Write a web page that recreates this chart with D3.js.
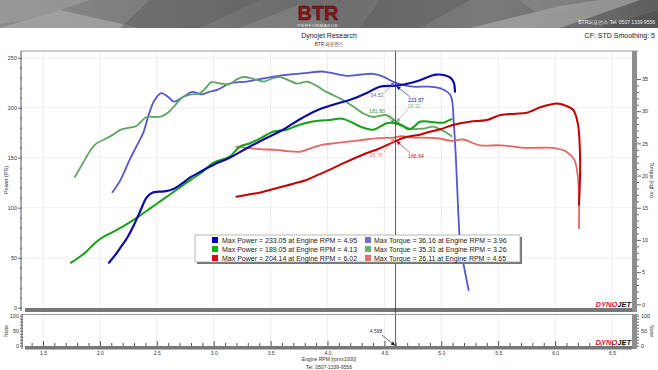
<!DOCTYPE html>
<html><head><meta charset="utf-8">
<script src="https://cdn.jsdelivr.net/npm/d3@7"></script>
<style>
body{margin:0;background:#fff}
svg{display:block}
text{font-family:"Liberation Sans",Arial,sans-serif}
</style>
</head><body>
<svg id="c" width="658" height="370"></svg>
<script>
// ---------- DATA ----------
const run1Power = [[2.08,45],[2.13,52],[2.18,60],[2.24,70],[2.3,83],[2.36,98],[2.41,110],[2.46,115],[2.52,116],[2.58,116.5],[2.65,119],[2.72,124],[2.79,130],[2.9,137],[3.0,143],[3.14,150],[3.3,160],[3.45,169],[3.61,178],[3.75,188],[3.9,197],[4.05,203],[4.2,208],[4.35,215],[4.46,221],[4.6,222],[4.7,224],[4.8,227],[4.9,231.5],[4.95,233.05],[5.03,232.5],[5.08,230],[5.11,225],[5.12,216]];
const run1Torque = [[2.11,17.4],[2.18,19.3],[2.26,22.4],[2.32,24.5],[2.38,26.6],[2.43,29.5],[2.48,31.7],[2.54,32.8],[2.6,32.2],[2.65,31.5],[2.73,32.2],[2.81,33.0],[2.89,32.6],[2.96,33.0],[3.03,33.3],[3.14,34.3],[3.29,34.6],[3.44,35.1],[3.61,35.6],[3.8,35.9],[3.96,36.16],[4.07,35.8],[4.17,35.5],[4.3,35.7],[4.4,35.8],[4.5,35.3],[4.55,34.8],[4.6,34.4],[4.68,34.0],[4.75,33.8],[4.9,33.8],[5.0,33.5],[5.08,32.5],[5.11,28],[5.13,22],[5.15,14],[5.17,8.4],[5.2,5.8],[5.22,4],[5.24,2.2]];
const run2Power = [[1.746,45],[1.8,49],[1.87,55],[1.97,66],[2.05,72],[2.12,76],[2.2,81],[2.3,88],[2.4,96],[2.5,104],[2.6,112],[2.7,120],[2.8,128],[2.88,134],[3.0,145],[3.14,151],[3.23,161],[3.32,164.5],[3.42,170],[3.52,176],[3.64,178],[3.73,182],[3.82,185],[3.92,187],[4.02,187.7],[4.13,189.05],[4.22,185],[4.29,181],[4.4,178],[4.46,181],[4.52,184.5],[4.61,184],[4.67,181],[4.72,178.5],[4.77,182],[4.81,186],[4.9,186],[4.97,185],[5.02,185],[5.06,187],[5.09,188.5]];
const run2Torque = [[1.78,19.8],[1.85,21.9],[1.92,24],[1.97,25],[2.06,25.8],[2.12,26.4],[2.18,27.1],[2.25,27.4],[2.32,27.7],[2.41,29.1],[2.48,29.1],[2.54,29.2],[2.6,29.8],[2.65,30.7],[2.73,32.2],[2.8,32.6],[2.88,32.8],[2.93,33.6],[2.98,34.5],[3.06,34.3],[3.14,34.2],[3.2,34.9],[3.26,35.31],[3.35,35.0],[3.44,34.6],[3.5,35.0],[3.58,35.3],[3.66,34.8],[3.73,34.3],[3.82,34.6],[3.9,34.0],[3.96,33.3],[4.05,32.5],[4.14,31.7],[4.22,30.8],[4.31,29.7],[4.4,29.1],[4.52,29.4],[4.61,28.3],[4.72,27.3],[4.84,27.3],[4.93,27.6],[5.0,27.1],[5.05,26.6],[5.09,26.1]];
const run3Power = [[3.2,111],[3.3,113],[3.4,115],[3.5,118],[3.6,121],[3.7,124],[3.82,128],[3.92,133],[4.02,138],[4.15,145],[4.31,153],[4.45,159],[4.55,164],[4.67,170],[4.81,173],[4.9,176],[4.99,178.4],[5.1,182.7],[5.25,186],[5.4,187.7],[5.52,192.7],[5.65,194],[5.75,195],[5.87,200.4],[5.95,203],[6.02,204.14],[6.1,201.7],[6.16,197.7],[6.2,184],[6.22,148],[6.21,103]];
const run3Torque = [[3.2,24.5],[3.3,24.3],[3.4,24.1],[3.55,24.0],[3.65,23.8],[3.76,23.7],[3.88,24.4],[3.96,24.8],[4.05,25.0],[4.2,25.3],[4.34,25.6],[4.45,25.8],[4.58,25.9],[4.65,26.11],[4.75,25.9],[4.81,25.9],[4.96,25.8],[5.1,25.4],[5.19,25.6],[5.34,24.7],[5.52,24.7],[5.75,24.3],[5.98,24.3],[6.1,23.7],[6.17,22.4],[6.2,19.8],[6.21,16.2],[6.21,11.8]];

const seriesColors = ["#0a0aa8","#5656d2","#16a016","#5fa45f","#c40000","#e26868"];
const legendPower = ["Max Power = 233.05 at Engine RPM = 4.95","Max Power = 189.05 at Engine RPM = 4.13","Max Power = 204.14 at Engine RPM = 6.02"];
const legendTorque = ["Max Torque = 36.16 at Engine RPM = 3.96","Max Torque = 35.31 at Engine RPM = 3.26","Max Torque = 26.11 at Engine RPM = 4.65"];
const legendPowerColors = ["#0000c0","#10b010","#d01010"];
const legendTorqueColors = ["#7070d0","#70b070","#e07070"];

const xTicks = [1.5,2.0,2.5,3.0,3.5,4.0,4.5,5.0,5.5,6.0,6.5];
const powerTicks = [0,50,100,150,200,250];
const torqueTicks = [0,5,10,15,20,25,30,35];
const noneTicks = [0,50,100];
const cursorRpm = 4.598;
// cursor readouts: [text, value, kind(P/T), side, color]
const cursorLabels = [
  ["34.52", 34.52, "T", "L", "#6a6ad8"],
  ["221.57", 221.57, "P", "R", "#0a0aa8"],
  ["181.80", 184, "P", "L", "#3aa03a"],
  ["28.32", 28.32, "T", "R", "#7ab87a"],
  ["25.76", 25.76, "T", "L", "#e88080"],
  ["166.64", 166.64, "P", "R", "#b81010"]
];

// ---------- SETUP ----------
const svg = d3.select("#c");
const PL = 21, PR = 632, PT = 51, PB = 308;
const x = d3.scaleLinear().domain([1.5, 6.5]).range([43, 612]);
const yP = d3.scaleLinear().domain([0, 250]).range([307.7, 57.7]);
const yT = d3.scaleLinear().domain([0, 35]).range([304.3, 79]);
const yN = d3.scaleLinear().domain([0, 100]).range([345.7, 315.7]);

// ---------- HEADER BANNER ----------
const defs = svg.append("defs");
const g1 = defs.append("linearGradient").attr("id","bg").attr("x1","0").attr("x2","1").attr("y1","0").attr("y2","0");
g1.append("stop").attr("offset","0").attr("stop-color","#8c8c8c");
g1.append("stop").attr("offset","0.45").attr("stop-color","#6c6c6c");
g1.append("stop").attr("offset","0.75").attr("stop-color","#7a7a7a");
g1.append("stop").attr("offset","1").attr("stop-color","#5e5e5e");
svg.append("rect").attr("x",0).attr("y",0).attr("width",658).attr("height",28).attr("fill","url(#bg)");
const polys = [
  ["0,28 60,10 140,28", "#b0b0b0", 0.6],
  ["0,0 90,0 30,20 0,24", "#a3a3a3", 0.5],
  ["150,0 260,0 200,28 120,28", "#5a5a5a", 0.45],
  ["240,28 300,4 330,28", "#9a9a9a", 0.35],
  ["380,0 470,0 420,28 360,28", "#585858", 0.4],
  ["470,28 560,6 600,0 640,0 560,28", "#b8b8b8", 0.55],
  ["600,28 658,10 658,28", "#4a4a4a", 0.5],
  ["520,0 600,0 540,16", "#9c9c9c", 0.4]
];
polys.forEach(p => svg.append("polygon").attr("points",p[0]).attr("fill",p[1]).attr("opacity",p[2]));
svg.append("text").attr("x",318).attr("y",20).attr("text-anchor","middle")
  .attr("font-size",20).attr("font-weight","bold").attr("fill","#8a1414")
  .attr("stroke","#4a0a0a").attr("stroke-width",0.4).text("BTR");
svg.append("text").attr("x",318).attr("y",26.5).attr("text-anchor","middle")
  .attr("font-size",4.4).attr("fill","#e8e8e8").attr("letter-spacing",0.6).text("PERFORMANCE");
svg.append("text").attr("x",655).attr("y",24).attr("text-anchor","end")
  .attr("font-size",5).attr("fill","#eeeeee").text("BTR퍼포먼스  Tel. 0507 1339 9556");

// ---------- TITLES ----------
svg.append("text").attr("x",329).attr("y",38).attr("text-anchor","middle").attr("font-size",7).attr("fill","#222").text("Dynojet Research");
svg.append("text").attr("x",329).attr("y",46).attr("text-anchor","middle").attr("font-size",5).attr("fill","#333")
  .style("font-family","'Noto Sans CJK KR','Liberation Sans',sans-serif").text("BTR 퍼포먼스");
svg.append("text").attr("x",655).attr("y",38).attr("text-anchor","end").attr("font-size",7).attr("fill","#222").text("CF: STD Smoothing: 5");

// ---------- GRID ----------
const grid = svg.append("g");
xTicks.forEach(t => {
  grid.append("line").attr("x1",x(t)).attr("x2",x(t)).attr("y1",PT).attr("y2",PB).attr("stroke","#ececec").attr("stroke-width",1);
  grid.append("line").attr("x1",x(t)).attr("x2",x(t)).attr("y1",315).attr("y2",346).attr("stroke","#ececec").attr("stroke-width",1);
});
powerTicks.forEach(t => {
  if (t>0) grid.append("line").attr("x1",PL).attr("x2",PR).attr("y1",yP(t)).attr("y2",yP(t)).attr("stroke","#f0f0f0").attr("stroke-width",1);
});

// plot frame
svg.append("line").attr("x1",PL).attr("x2",PR+6).attr("y1",PT).attr("y2",PT).attr("stroke","#9a9a9a").attr("stroke-width",1);
svg.append("rect").attr("x",PR).attr("y",PT).attr("width",5).attr("height",PB-PT+4).attr("fill","#8e8e8e");
svg.append("rect").attr("x",25).attr("y",308).attr("width",PR-25).attr("height",4).attr("fill","#777");

// ---------- LEFT AXIS (Power) ----------
const axL = svg.append("g").attr("transform",`translate(${PL},0)`)
  .call(d3.axisLeft(yP).tickValues(d3.range(0,251,10)).tickSize(2).tickFormat(d => d%50===0 ? d : ""));
axL.select(".domain").attr("stroke","#555").attr("d",`M0,${PT}V${PB+3}`);
axL.selectAll(".tick line").attr("stroke","#666").attr("x1",1)
  .attr("x2", d => d%50===0 ? -3 : -1);
axL.selectAll(".tick text").attr("font-size",5.5).attr("fill","#333").attr("x",-4).style("font-family","'Liberation Sans',Arial,sans-serif");
svg.append("text").attr("transform","translate(8,180) rotate(-90)").attr("text-anchor","middle")
  .attr("font-size",5.5).attr("fill","#333").text("Power (PS)");

// ---------- RIGHT AXIS (Torque) ----------
const axR = svg.append("g").attr("transform",`translate(${PR+5},0)`)
  .call(d3.axisRight(yT).tickValues(d3.range(0,36,1)).tickSize(2).tickFormat(d => d%5===0 ? d : ""));
axR.select(".domain").remove();
axR.selectAll(".tick line").attr("stroke","#666").attr("x2", d => d%5===0 ? 4 : 2);
axR.selectAll(".tick text").attr("font-size",5.5).attr("fill","#333").attr("x",5).style("font-family","'Liberation Sans',Arial,sans-serif");
svg.append("text").attr("transform","translate(650,180) rotate(90)").attr("text-anchor","middle")
  .attr("font-size",5.5).attr("fill","#333").text("Torque (kgf·m)");

// ---------- DYNOJET logos ----------
function dynojet(xr, yb){
  const t = svg.append("text").attr("x",xr).attr("y",yb).attr("text-anchor","end")
    .attr("font-size",7.5).attr("font-weight","bold").attr("font-style","italic");
  t.append("tspan").attr("fill","#d8141c").text("DYNO");
  t.append("tspan").attr("fill","#111").text("JET");
}
dynojet(631, 307);

// ---------- CURVES ----------
const lineP = d3.line().x(d => x(d[0])).y(d => yP(d[1])).curve(d3.curveCatmullRom.alpha(0.5));
const lineT = d3.line().x(d => x(d[0])).y(d => yT(d[1])).curve(d3.curveCatmullRom.alpha(0.5));
const curves = [
  [run1Torque, lineT, seriesColors[1], 1.8],
  [run2Torque, lineT, seriesColors[3], 1.8],
  [run3Torque, lineT, seriesColors[5], 1.8],
  [run3Power, lineP, seriesColors[4], 2.0],
  [run2Power, lineP, seriesColors[2], 2.0],
  [run1Power, lineP, seriesColors[0], 2.2]
];
curves.forEach(c => svg.append("path").datum(c[0]).attr("d", c[1]).attr("fill","none")
  .attr("stroke", c[2]).attr("stroke-width", c[3]).attr("stroke-linejoin","round").attr("stroke-linecap","round"));

// ---------- CURSOR ----------
const cx = x(cursorRpm);
svg.append("line").attr("x1",cx).attr("x2",cx).attr("y1",PT).attr("y2",346).attr("stroke","#333").attr("stroke-width",0.8);
function arrow(x1,y1,x2,y2,color){
  svg.append("line").attr("x1",x1).attr("y1",y1).attr("x2",x2).attr("y2",y2).attr("stroke",color).attr("stroke-width",0.6);
  const a = Math.atan2(y2-y1, x2-x1), L = 4, W = 2;
  const p = [[x2,y2],[x2 - L*Math.cos(a) + W*Math.sin(a), y2 - L*Math.sin(a) - W*Math.cos(a)],
             [x2 - L*Math.cos(a) - W*Math.sin(a), y2 - L*Math.sin(a) + W*Math.cos(a)]];
  svg.append("polygon").attr("points", p.map(q=>q.join(",")).join(" ")).attr("fill",color);
}
const labelPos = {"34.52":[377,97],"221.57":[416,102],"181.80":[377,113],"28.32":[414,108],"25.76":[376,157],"166.64":[416,158]};
cursorLabels.forEach(l => {
  const py = l[2]==="P" ? yP(l[1]) : yT(l[1]);
  const pos = labelPos[l[0]];
  svg.append("text").attr("x",pos[0]).attr("y",pos[1]).attr("text-anchor","middle").attr("font-size",5.2).attr("fill",l[4]).text(l[0]);
  const sx = l[3]==="L" ? pos[0]+8 : pos[0]-6;
  const sy = pos[1] + (py < pos[1] ? -5 : 1);
  arrow(sx, sy, cx + (l[3]==="L" ? -1 : 1), py, l[4]);
});

// ---------- LEGEND ----------
svg.append("rect").attr("x",197).attr("y",237).attr("width",325).attr("height",27).attr("fill","#777");
svg.append("rect").attr("x",195).attr("y",235).attr("width",325).attr("height",27).attr("fill","#fff").attr("stroke","#999").attr("stroke-width",0.7);
legendPower.forEach((t,i) => {
  const yy = 240 + i*9;
  svg.append("rect").attr("x",212).attr("y",yy-3).attr("width",6).attr("height",6).attr("fill",legendPowerColors[i]);
  svg.append("text").attr("x",222).attr("y",yy+2.5).attr("font-size",7).attr("fill","#222").text(t);
});
legendTorque.forEach((t,i) => {
  const yy = 240 + i*9;
  svg.append("rect").attr("x",365).attr("y",yy-3).attr("width",6).attr("height",6).attr("fill",legendTorqueColors[i]);
  svg.append("text").attr("x",374).attr("y",yy+2.5).attr("font-size",7).attr("fill","#222").text(t);
});

// ---------- BOTTOM PANEL ----------
svg.append("line").attr("x1",22).attr("x2",PR+6).attr("y1",314.5).attr("y2",314.5).attr("stroke","#999").attr("stroke-width",1);
svg.append("rect").attr("x",PR).attr("y",314).attr("width",5).attr("height",35).attr("fill","#8e8e8e");
svg.append("rect").attr("x",25).attr("y",346).attr("width",PR-25).attr("height",3.5).attr("fill","#777");
const axNL = svg.append("g").attr("transform","translate(22,0)")
  .call(d3.axisLeft(yN).tickValues(d3.range(0,101,10)).tickSize(2).tickFormat(d => noneTicks.includes(d) ? d : ""));
axNL.select(".domain").attr("stroke","#555").attr("d","M0,314V349");
axNL.selectAll(".tick line").attr("stroke","#666").attr("x1",1);
axNL.selectAll(".tick text").attr("font-size",5.5).attr("fill","#333").attr("x",-3).style("font-family","'Liberation Sans',Arial,sans-serif");
const axNR = svg.append("g").attr("transform",`translate(${PR+5},0)`)
  .call(d3.axisRight(yN).tickValues(d3.range(0,101,10)).tickSize(2).tickFormat(d => noneTicks.includes(d) ? d : ""));
axNR.select(".domain").remove();
axNR.selectAll(".tick line").attr("stroke","#666");
axNR.selectAll(".tick text").attr("font-size",5.5).attr("fill","#333").attr("x",4).style("font-family","'Liberation Sans',Arial,sans-serif");
svg.append("text").attr("transform","translate(8,331) rotate(-90)").attr("text-anchor","middle").attr("font-size",5).attr("fill","#333").text("None");
svg.append("text").attr("transform","translate(650,331) rotate(90)").attr("text-anchor","middle").attr("font-size",5).attr("fill","#333").text("None");
dynojet(631, 345);

// x ticks (upward from bar) and labels below
const axXT = svg.append("g").attr("transform","translate(0,346)")
  .call(d3.axisTop(x).tickValues(d3.range(14,67,1).map(v=>v/10)).tickSize(3).tickFormat(""));
axXT.select(".domain").remove();
axXT.selectAll(".tick line").attr("stroke","#555").attr("y2", d => Math.abs(d*2 - Math.round(d*2))<1e-6 ? -5 : -3);
axXT.selectAll(".tick").filter(d => d < 1.32 || d > 6.67).remove();
const axXB = svg.append("g").attr("transform","translate(0,349.5)")
  .call(d3.axisBottom(x).tickValues(xTicks).tickSize(0).tickFormat(d3.format(".1f")));
axXB.select(".domain").remove();
axXB.selectAll(".tick text").attr("font-size",5).attr("fill","#333").attr("dy","0").attr("y",5.2).style("font-family","'Liberation Sans',Arial,sans-serif");
svg.append("text").attr("x",329).attr("y",360.5).attr("text-anchor","middle").attr("font-size",5).attr("fill","#333").text("Engine RPM [rpmx1000]");
svg.append("text").attr("x",329).attr("y",368.5).attr("text-anchor","middle").attr("font-size",5).attr("fill","#333").text("Tel. 0507-1339-9556");

// cursor readout in bottom panel
svg.append("text").attr("x",376).attr("y",333).attr("text-anchor","middle").attr("font-size",5).attr("fill","#333").text(cursorRpm.toFixed(3));
arrow(382, 335, cx-0.5, 345.5, "#111");
</script>
</body></html>
